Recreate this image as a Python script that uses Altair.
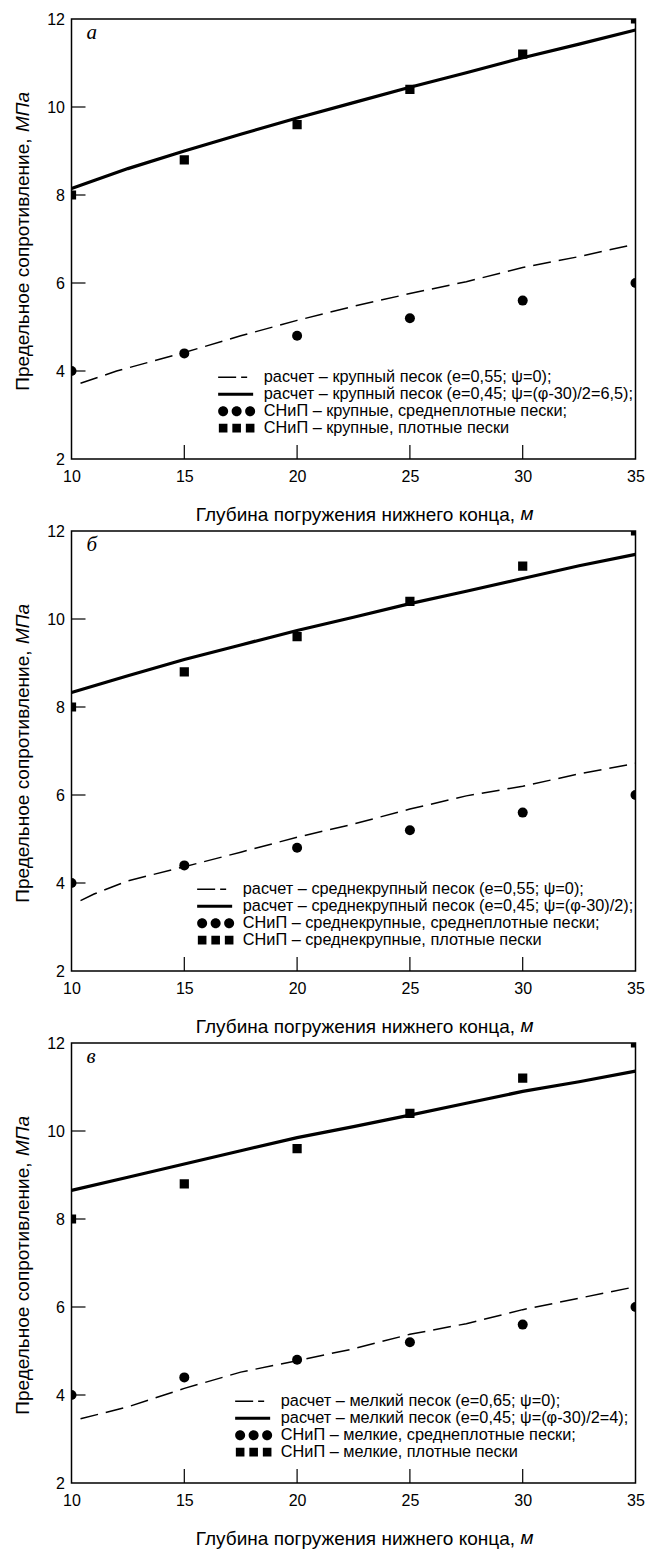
import altair as alt
import pandas as pd

# ---- shared axes ranges -------------------------------------------------
X_DOMAIN = [10, 35]
Y_DOMAIN = [2, 12]
X_TICKS = [10, 15, 20, 25, 30, 35]
Y_TICKS = [2, 4, 6, 8, 10, 12]
X_INNER_TICKS = [15, 20, 25, 30]
Y_INNER_TICKS = [4, 6, 8, 10]

X_TITLE = "Глубина погружения нижнего конца,"
X_UNIT = "м"
Y_TITLE = "Предельное сопротивление,"
Y_UNIT = "МПа"

# ---- SNiP tabulated values (identical in every panel) --------------------
snip_depth = [10, 15, 20, 25, 30, 35]
snip_medium = [4.0, 4.4, 4.8, 5.2, 5.6, 6.0]
snip_dense = [8.0, 8.8, 9.6, 10.4, 11.2, 12.0]

# ---- calculated curves ---------------------------------------------------
calc_depth = [10, 12.5, 15, 17.5, 20, 22.5, 25, 27.5, 30, 32.5, 35]

# panel а: coarse sand
a_dense = [8.15, 8.6, 9.0, 9.38, 9.75, 10.1, 10.45, 10.78, 11.12, 11.43, 11.75]
a_loose_depth = [10.4, 12, 15, 17.5, 20, 22.5, 25, 27.5, 30, 32.5, 34.7]
a_loose = [3.72, 4.0, 4.42, 4.8, 5.15, 5.47, 5.76, 6.03, 6.35, 6.6, 6.85]

# panel б: medium-coarse sand
b_dense = [8.33, 8.71, 9.08, 9.41, 9.74, 10.04, 10.35, 10.63, 10.92, 11.21, 11.47]
b_loose_depth = [10.4, 11, 12.5, 15, 17.5, 20, 22.5, 25, 27.5, 30, 32.5, 35]
b_loose = [3.6, 3.75, 4.05, 4.37, 4.7, 5.04, 5.34, 5.68, 5.98, 6.2, 6.48, 6.72]

# panel в: fine sand
c_dense = [8.65, 8.95, 9.25, 9.55, 9.85, 10.1, 10.36, 10.63, 10.9, 11.12, 11.36]
c_loose_depth = [10.4, 12.5, 15, 17.5, 20, 22.5, 25, 27.5, 30, 32.5, 35]
c_loose = [3.46, 3.73, 4.15, 4.52, 4.78, 5.05, 5.38, 5.62, 5.94, 6.2, 6.46]

a_labels = [
    "расчет – крупный песок (e=0,55; ψ=0);",
    "расчет – крупный песок (e=0,45; ψ=(φ-30)/2=6,5);",
    "СНиП – крупные, среднеплотные пески;",
    "СНиП – крупные, плотные пески",
]
b_labels = [
    "расчет – среднекрупный песок (e=0,55; ψ=0);",
    "расчет – среднекрупный песок (e=0,45; ψ=(φ-30)/2);",
    "СНиП – среднекрупные, среднеплотные пески;",
    "СНиП – среднекрупные, плотные пески",
]
c_labels = [
    "расчет – мелкий песок (e=0,65; ψ=0);",
    "расчет – мелкий песок (e=0,45; ψ=(φ-30)/2=4);",
    "СНиП – мелкие, среднеплотные пески;",
    "СНиП – мелкие, плотные пески",
]

W, H = 564, 440
SANS = "Liberation Sans, Arial, sans-serif"
SERIF = "Liberation Serif, Times New Roman, serif"
TITLE_SIZE = 19
X_JOIN = 443      # where the x-title text ends and its unit begins
Y_JOIN = 119      # same for the rotated y-title
TITLE_BASE_X = -43
TITLE_BASE_Y = H + 61


# ---- legend glyphs (SVG paths in pixel units, symbol size 4 -> scale 1) --
def rect(x0, x1, half):
    return f"M{x0},{-half}H{x1}V{half}H{x0}Z"


def circle(cx, r):
    return (f"M{cx - r},0a{r},{r} 0 1,0 {2 * r},0"
            f"a{r},{r} 0 1,0 {-2 * r},0Z")


CENTERS = [-15, -1.5, 12]
GLYPH_DASHED = rect(-20, -2, 0.75) + rect(3, 9, 0.75)
GLYPH_SOLID = rect(-20, 15, 1.5)
GLYPH_CIRCLES = "".join(circle(c, 5) for c in CENTERS)
GLYPH_SQUARES = "".join(rect(c - 4.3, c + 4.3, 4.3) for c in CENTERS)
GLYPHS = [GLYPH_DASHED, GLYPH_SOLID, GLYPH_CIRCLES, GLYPH_SQUARES]

xs = alt.Scale(domain=X_DOMAIN, nice=False, zero=False)
ys = alt.Scale(domain=Y_DOMAIN, nice=False, zero=False)


def panel(letter, labels, dense, loose_depth, loose, legend_x):
    dense_df = pd.DataFrame({"depth": calc_depth, "value": dense})
    loose_df = pd.DataFrame({"depth": loose_depth, "value": loose})
    snip_df = pd.DataFrame({"depth": snip_depth, "medium": snip_medium,
                            "dense": snip_dense})
    legend_df = pd.DataFrame({"label": labels,
                              "depth": [None] * 4, "value": [None] * 4})

    x_main = alt.X("depth:Q", scale=xs, title=X_TITLE, axis=alt.Axis(
        orient="bottom", values=X_TICKS, ticks=False, domain=False,
        grid=False, labelFontSize=16, labelPadding=9, labelFont=SANS,
        labelColor="black", labelFlush=False, titleFont=SANS,
        titleFontSize=TITLE_SIZE, titleFontWeight="normal",
        titleColor="black", titleBaseline="alphabetic", titleAlign="right",
        titleX=X_JOIN, titleY=TITLE_BASE_Y - H))
    y_main = alt.Y("value:Q", scale=ys, title=Y_TITLE, axis=alt.Axis(
        orient="left", values=Y_TICKS, ticks=False, domain=False,
        grid=False, labelFontSize=16, labelPadding=7, labelFont=SANS,
        labelColor="black", labelFlush=False, titleFont=SANS,
        titleFontSize=TITLE_SIZE, titleFontWeight="normal",
        titleColor="black", titleAngle=270, titleBaseline="alphabetic",
        titleAlign="right", titleX=TITLE_BASE_X, titleY=Y_JOIN))

    x_plain = alt.X("depth:Q", scale=xs, axis=None)
    y_plain = alt.Y("value:Q", scale=ys, axis=None)

    solid = alt.Chart(dense_df).mark_line(
        color="black", strokeWidth=3.2, clip=True
    ).encode(x=x_main, y=y_main)

    dashed = alt.Chart(loose_df).mark_line(
        color="black", strokeWidth=1.5, strokeDash=[18, 8], clip=True
    ).encode(x=x_plain, y=y_plain)

    circles = alt.Chart(snip_df).mark_point(
        shape="circle", filled=True, color="black", opacity=1, size=100,
        clip=True
    ).encode(x=x_plain, y=alt.Y("medium:Q", scale=ys, axis=None))

    squares = alt.Chart(snip_df).mark_point(
        shape="square", filled=True, color="black", opacity=1, size=85,
        clip=True
    ).encode(x=x_plain, y=alt.Y("dense:Q", scale=ys, axis=None))

    # inward tick marks on the bottom and left edges of the frame
    x_tick_marks = alt.Chart(pd.DataFrame({"t": X_INNER_TICKS})).mark_rule(
        color="black", strokeWidth=1.2
    ).encode(x=alt.X("t:Q", scale=xs, axis=None),
             y=alt.value(H), y2=alt.value(H - 14))
    y_tick_marks = alt.Chart(pd.DataFrame({"t": Y_INNER_TICKS})).mark_rule(
        color="black", strokeWidth=1.2
    ).encode(y=alt.Y("t:Q", scale=ys, axis=None),
             x=alt.value(0), x2=alt.value(14))

    legend = alt.Chart(legend_df).mark_point(
        filled=True, color="black", opacity=1
    ).encode(
        x=x_plain, y=y_plain,
        shape=alt.Shape("label:N", scale=alt.Scale(domain=labels,
                                                    range=GLYPHS),
                        legend=alt.Legend(
                            title=None, orient="none", legendX=legend_x,
                            legendY=350, padding=0, rowPadding=0,
                            symbolSize=4, symbolStrokeWidth=0,
                            symbolFillColor="black", symbolOpacity=1,
                            labelOffset=17.5, labelFont=SANS,
                            labelFontSize=16.3, labelColor="black",
                            labelLimit=0)),
    )

    tag = alt.Chart(pd.DataFrame({"t": [letter]})).mark_text(
        font=SERIF, fontStyle="italic", fontSize=21, align="left",
        baseline="alphabetic", color="black"
    ).encode(text="t:N", x=alt.value(15), y=alt.value(20))

    # italic units that follow the axis titles
    x_unit = alt.Chart(pd.DataFrame({"t": [X_UNIT]})).mark_text(
        font=SANS, fontStyle="italic", fontSize=TITLE_SIZE, align="left",
        baseline="alphabetic", color="black"
    ).encode(text="t:N", x=alt.value(X_JOIN + 6), y=alt.value(TITLE_BASE_Y))
    y_unit = alt.Chart(pd.DataFrame({"t": [Y_UNIT]})).mark_text(
        font=SANS, fontStyle="italic", fontSize=TITLE_SIZE, align="left",
        baseline="alphabetic", angle=270, color="black"
    ).encode(text="t:N", x=alt.value(TITLE_BASE_X), y=alt.value(Y_JOIN - 6))

    return alt.layer(
        solid, dashed, circles, squares, x_tick_marks, y_tick_marks,
        legend, tag, x_unit, y_unit
    ).resolve_axis(
        x="independent", y="independent"
    ).properties(width=W, height=H)


chart = alt.vconcat(
    panel("а", a_labels, a_dense, a_loose_depth, a_loose, 158.5),
    panel("б", b_labels, b_dense, b_loose_depth, b_loose, 137.5),
    panel("в", c_labels, c_dense, c_loose_depth, c_loose, 175.5),
    spacing=72, bounds="flush",
).resolve_scale(
    shape="independent"
).resolve_legend(
    shape="independent"
).properties(
    padding={"left": 12.5, "top": 10, "right": 0, "bottom": 0},
    background="white",
).configure_view(
    stroke="black", strokeWidth=1.5
)

chart.save("out.html", embed_options={"renderer": "svg", "actions": False})
